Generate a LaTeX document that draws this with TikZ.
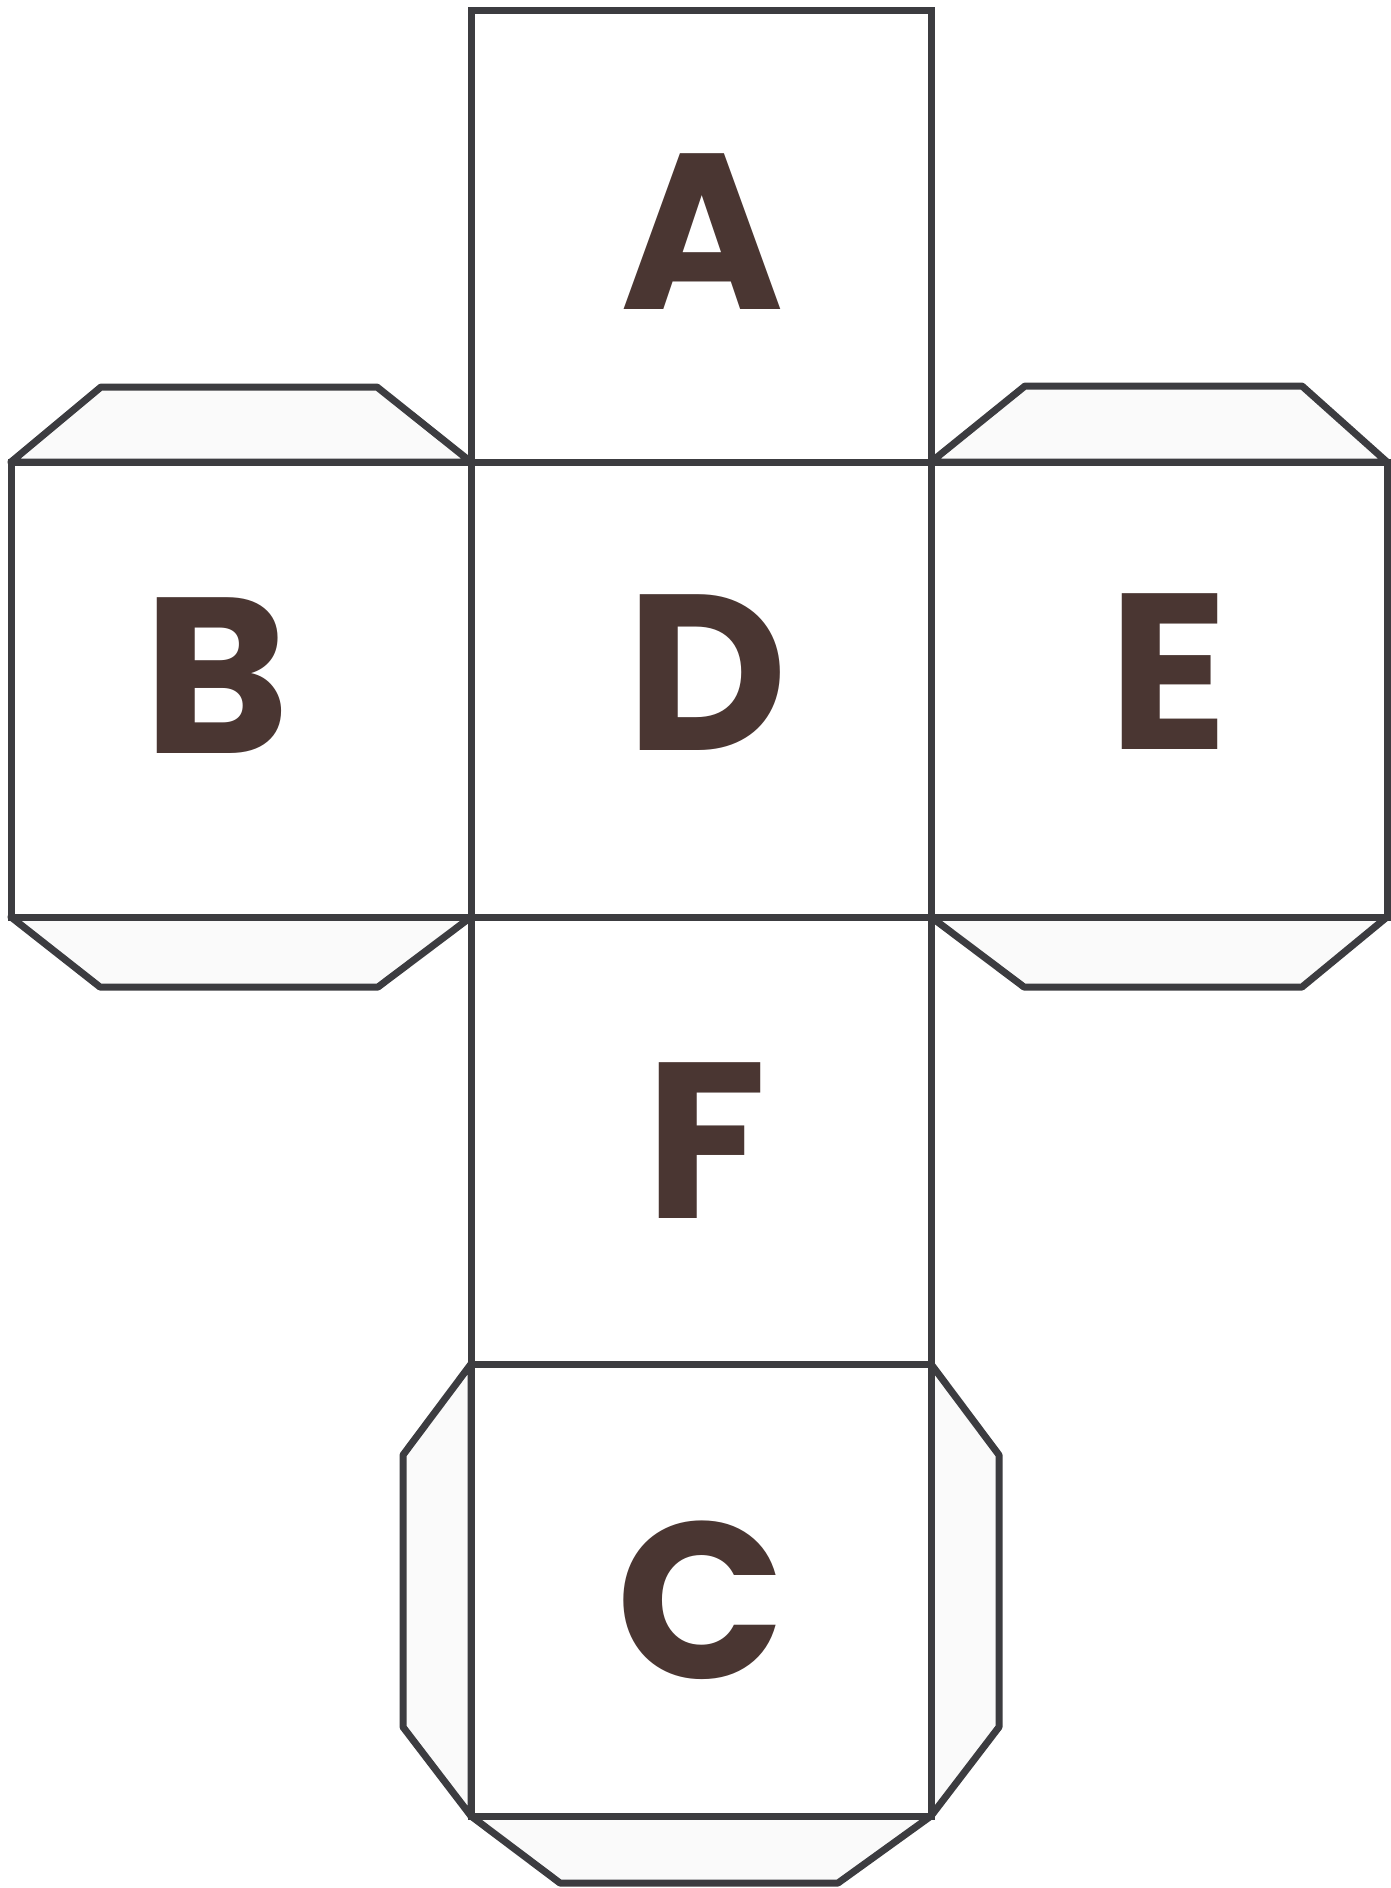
\documentclass[tikz,border=0pt]{standalone}
\usepackage{fontspec}
\setmainfont{Poppins}[BoldFont={* Bold}]
\definecolor{edge}{HTML}{3C3C40}
\definecolor{ink}{HTML}{4A3632}
\definecolor{tabfill}{HTML}{FAFAFA}
\tikzset{
  face/.style={draw=edge, line width=7pt, fill=white, line join=miter},
  tab/.style={draw=edge, line width=7pt, fill=tabfill, line join=round},
  letter/.style={text=ink, font=\fontsize{222}{222}\selectfont\bfseries, inner sep=0pt, anchor=center}
}
\begin{document}
\begin{tikzpicture}[x=1pt,y=-1pt]
\useasboundingbox[fill=white] (0,0) rectangle (1391,1888);
% tabs
\draw[tab] (11,462) -- (101,387) -- (377,387) -- (471,462) -- cycle;
\draw[tab] (11,917) -- (100,987) -- (378,987) -- (471,917) -- cycle;
\draw[tab] (931,462) -- (1025,386) -- (1302,386) -- (1387,462) -- cycle;
\draw[tab] (931,917) -- (1024,987) -- (1302,987) -- (1387,917) -- cycle;
\draw[tab] (471,1364) -- (403,1455) -- (403,1727) -- (471,1816) -- cycle;
\draw[tab] (931,1364) -- (999,1455) -- (999,1727) -- (931,1816) -- cycle;
\draw[tab] (471,1816) -- (560,1883) -- (838,1883) -- (931,1816) -- cycle;
% faces
\draw[face] (471,10) rectangle (931,462);
\draw[face] (11,462) rectangle (471,917);
\draw[face] (471,462) rectangle (931,917);
\draw[face] (931,462) rectangle (1387,917);
\draw[face] (471,917) rectangle (931,1364);
\draw[face] (471,1364) rectangle (931,1816);
% letters
\node[letter] (A) at (702,232) {A};
\node[letter] (B) at (217,676) {B};
\node[letter] (D) at (707,673) {D};
\node[letter] (E) at (1169,672) {E};
\node[letter] (F) at (706,1141) {F};
\node[letter] (C) at (701,1600) {C};
\end{tikzpicture}
\end{document}
